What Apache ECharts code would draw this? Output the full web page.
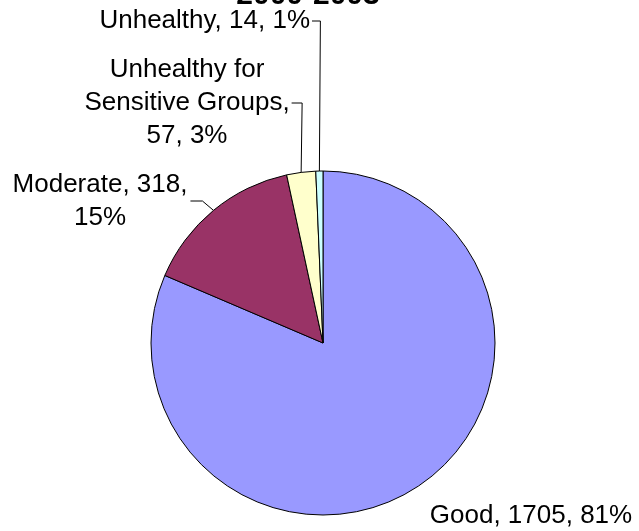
<!DOCTYPE html>
<html>
<head>
<meta charset="utf-8">
<script src="https://cdn.jsdelivr.net/npm/echarts@6/dist/echarts.min.js"></script>
<style>
html,body{margin:0;padding:0;background:#fff;}
#chart{width:639px;height:531px;}
</style>
</head>
<body>
<div id="chart"></div>
<script>
// ---- data ----
const titleText = '2000-2003';
const categories = ['Good', 'Moderate', 'Unhealthy for Sensitive Groups', 'Unhealthy'];
const values = [1705, 318, 57, 14];
const colors = ['#9999FF', '#993366', '#FFFFCC', '#CCFFFF'];

// ---- layout constants ----
const CX = 323, CY = 343, R = 172;
const FONT = 26, LH = 33;
// label anchor positions: [x, y, align, leaderStyle]
const labelPos = [
  [531, 516, 'center', 'none'],
  [100, 201, 'center', 'elbow'],
  [187, 103, 'center', 'vertical'],
  [310, 21, 'right', 'vertical']
];

const total = values.reduce((a, b) => a + b, 0);
function midAnchor(i) {
  let before = 0;
  for (let k = 0; k < i; k++) before += values[k];
  const frac = (before + values[i] / 2) / total;
  const ang = frac * 2 * Math.PI; // clockwise from top
  return [CX + R * Math.sin(ang), CY - R * Math.cos(ang)];
}

const chart = echarts.init(document.getElementById('chart'));
chart.setOption({
  animation: false,
  title: {
    text: titleText,
    left: 303,
    textAlign: 'center',
    top: -24,
    textStyle: { fontFamily: 'Liberation Sans', fontWeight: 'bold', fontSize: 30, color: '#000' }
  },
  series: [{
    type: 'pie',
    center: [CX, CY],
    radius: R,
    startAngle: 90,
    clockwise: true,
    percentPrecision: 0,
    avoidLabelOverlap: false,
    itemStyle: { borderColor: '#000', borderWidth: 1 },
    label: {
      show: true,
      position: 'outside',
      fontFamily: 'Liberation Sans',
      fontSize: FONT,
      lineHeight: LH,
      color: '#000',
      formatter: function (p) {
        let name = p.name;
        let txt;
        if (p.dataIndex === 2) {
          txt = name.replace(' for ', ' for\n') + ',\n' + p.value + ', ' + p.percent + '%';
        } else if (p.dataIndex === 1) {
          txt = name + ', ' + p.value + ',\n' + p.percent + '%';
        } else {
          txt = name + ', ' + p.value + ', ' + p.percent + '%';
        }
        return txt;
      }
    },
    labelLine: { show: true, lineStyle: { color: '#000', width: 1 }, smooth: false },
    labelLayout: function (params) {
      const i = params.dataIndex;
      const pos = labelPos[i];
      const w = params.labelRect.width;
      let right = pos[2] === 'right' ? pos[0] : pos[0] + w / 2;
      const anchor = midAnchor(i);
      let pts;
      if (pos[3] === 'none') {
        pts = [anchor, anchor, anchor];
      } else if (pos[3] === 'elbow') {
        pts = [anchor, [right + 15, pos[1]], [right + 3, pos[1]]];
      } else {
        pts = [anchor, [anchor[0] + 1, pos[1]], [right + 2, pos[1]]];
      }
      return {
        x: pos[0],
        y: pos[1],
        align: pos[2],
        verticalAlign: 'middle',
        labelLinePoints: pts
      };
    },
    data: categories.map((c, i) => ({ name: c, value: values[i], itemStyle: { color: colors[i] } }))
  }]
});
</script>
</body>
</html>
